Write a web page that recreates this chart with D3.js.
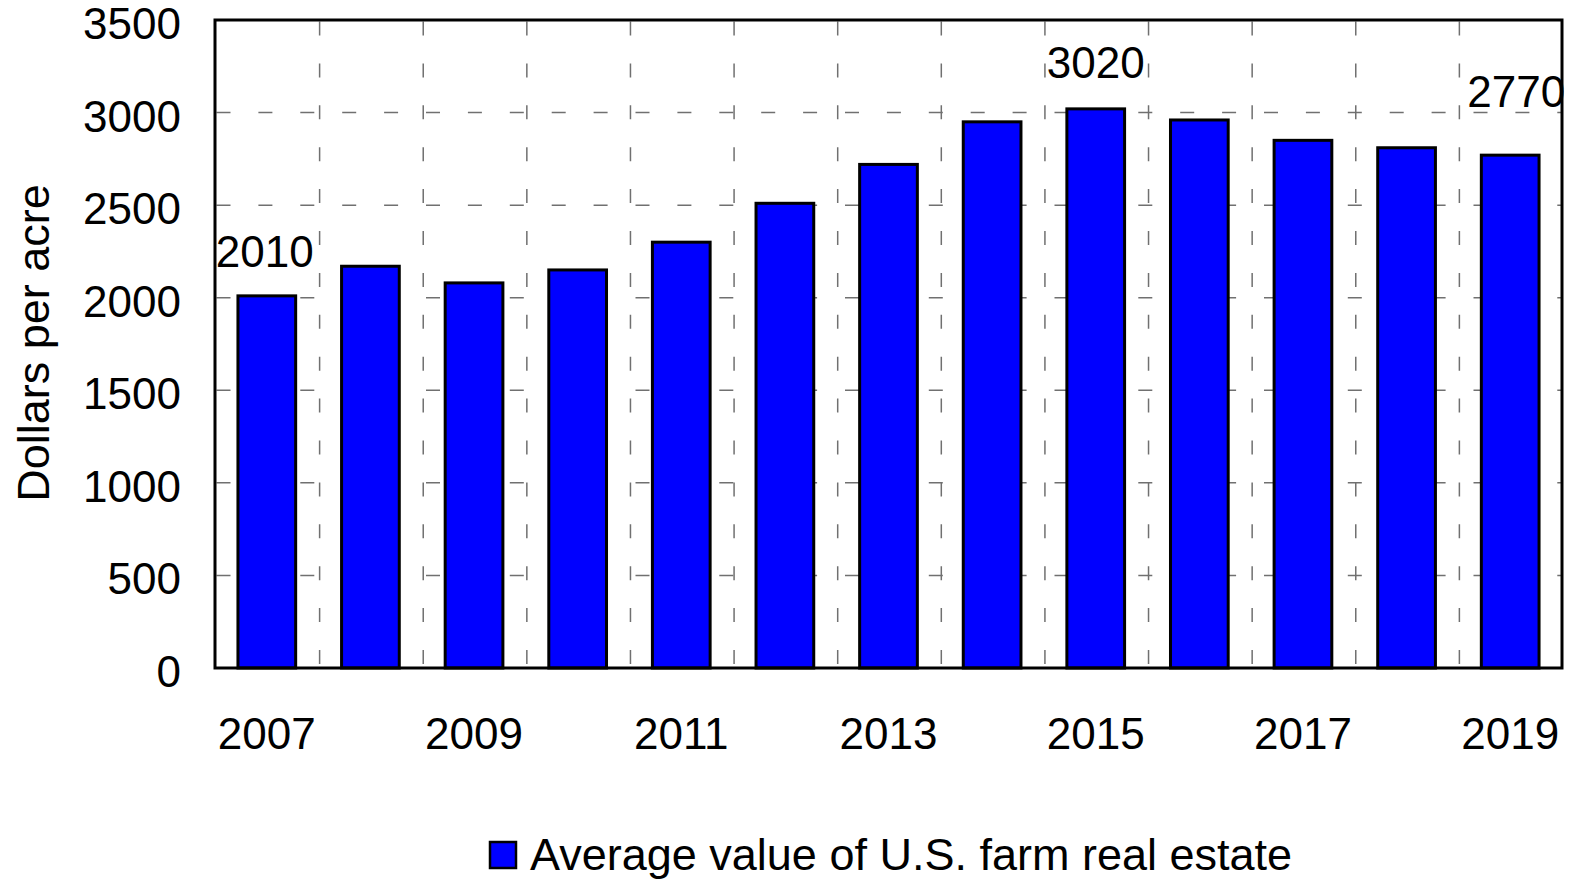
<!DOCTYPE html>
<html>
<head>
<meta charset="utf-8">
<script src="https://cdn.jsdelivr.net/npm/d3@7"></script>
<style>
  html, body { margin: 0; padding: 0; background: #ffffff; }
  svg { display: block; }
  text { font-family: "Liberation Sans", Arial, Helvetica, sans-serif; fill: #000; }
</style>
</head>
<body>
<svg id="chart" width="1575" height="880"></svg>
<script>
// Average value of U.S. farm real estate, dollars per acre
const years = [2007, 2008, 2009, 2010, 2011, 2012, 2013, 2014, 2015, 2016, 2017, 2018, 2019];
const values = [2010, 2170, 2080, 2150, 2300, 2510, 2720, 2950, 3020, 2960, 2850, 2810, 2770];
const xTickYears = [2007, 2009, 2011, 2013, 2015, 2017, 2019];
const yTicks = [0, 500, 1000, 1500, 2000, 2500, 3000, 3500];
const labelledYears = [2007, 2015, 2019];
const seriesName = "Average value of U.S. farm real estate";
const yTitle = "Dollars per acre";

const svg = d3.select("#chart");
const plot = { left: 215, right: 1562, top: 20, bottom: 668 };
const FONT = 44;
const TITLE_FONT = 45;

const x = d3.scaleBand()
  .domain(years)
  .range([plot.left, plot.right])
  .paddingInner(0.443)
  .paddingOuter(0.2215);

const y = d3.scaleLinear()
  .domain([0, 3500])
  .range([plot.bottom, plot.top]);

// Dashed grid: horizontal rows at each tick, vertical lines between categories
const grid = svg.append("g")
  .attr("stroke", "#707070")
  .attr("stroke-width", 1.5)
  .attr("stroke-dasharray", "14,27.9");

grid.selectAll("line.h")
  .data(yTicks.filter(t => t > 0 && t < 3500))
  .join("line")
  .attr("class", "h")
  .attr("x1", plot.left + 1.5)
  .attr("x2", plot.right)
  .attr("y1", d => y(d))
  .attr("y2", d => y(d));

const step = x.step();
grid.selectAll("line.v")
  .data(years.slice(1))
  .join("line")
  .attr("class", "v")
  .attr("x1", d => x(d) - step * x.paddingInner() / 2 + 1)
  .attr("x2", d => x(d) - step * x.paddingInner() / 2 + 1)
  .attr("y1", plot.top + 1.5)
  .attr("y2", plot.bottom);

// Bars
svg.append("g")
  .selectAll("rect")
  .data(years.map((yr, i) => ({ year: yr, value: values[i] })))
  .join("rect")
  .attr("x", d => x(d.year))
  .attr("width", x.bandwidth())
  .attr("y", d => y(d.value))
  .attr("height", d => y(0) - y(d.value))
  .attr("fill", "#0000ff")
  .attr("stroke", "#000")
  .attr("stroke-width", 3);

// Plot frame
svg.append("rect")
  .attr("x", plot.left)
  .attr("y", plot.top)
  .attr("width", plot.right - plot.left)
  .attr("height", plot.bottom - plot.top)
  .attr("fill", "none")
  .attr("stroke", "#000")
  .attr("stroke-width", 3);

// Y axis labels
const yAxis = svg.append("g")
  .attr("transform", `translate(${plot.left},0)`)
  .call(d3.axisLeft(y).tickValues(yTicks).tickSize(0).tickPadding(34).tickFormat(d3.format("d")));
yAxis.select(".domain").remove();
yAxis.selectAll("text")
  .attr("font-size", FONT)
  .attr("font-family", "Liberation Sans, Arial, sans-serif")
  .attr("dy", "0.42em");

// X axis labels (every other year)
const xAxis = svg.append("g")
  .attr("transform", `translate(0,${plot.bottom})`)
  .call(d3.axisBottom(x).tickValues(xTickYears).tickSize(0).tickPadding(50).tickFormat(d3.format("d")));
xAxis.select(".domain").remove();
xAxis.selectAll("text")
  .attr("font-size", FONT)
  .attr("font-family", "Liberation Sans, Arial, sans-serif");

// Y axis title
svg.append("text")
  .attr("transform", "translate(49,343) rotate(-90)")
  .attr("text-anchor", "middle")
  .attr("font-size", TITLE_FONT)
  .text(yTitle);

// Value labels above selected bars
const lift = { 2007: 29, 2015: 31, 2019: 48 };
const shift = { 2007: -2, 2015: 0, 2019: 6 };
svg.append("g")
  .selectAll("text")
  .data(labelledYears)
  .join("text")
  .attr("x", d => x(d) + x.bandwidth() / 2 + shift[d])
  .attr("y", d => y(values[years.indexOf(d)]) - lift[d])
  .attr("text-anchor", "middle")
  .attr("font-size", FONT)
  .text(d => values[years.indexOf(d)]);

// Legend
const legend = svg.append("g").attr("transform", "translate(490,842)");
legend.append("rect")
  .attr("width", 26)
  .attr("height", 26)
  .attr("fill", "#0000ff")
  .attr("stroke", "#000")
  .attr("stroke-width", 2.5);
legend.append("text")
  .attr("x", 40)
  .attr("y", 28)
  .attr("font-size", TITLE_FONT)
  .text(seriesName);
</script>
</body>
</html>
